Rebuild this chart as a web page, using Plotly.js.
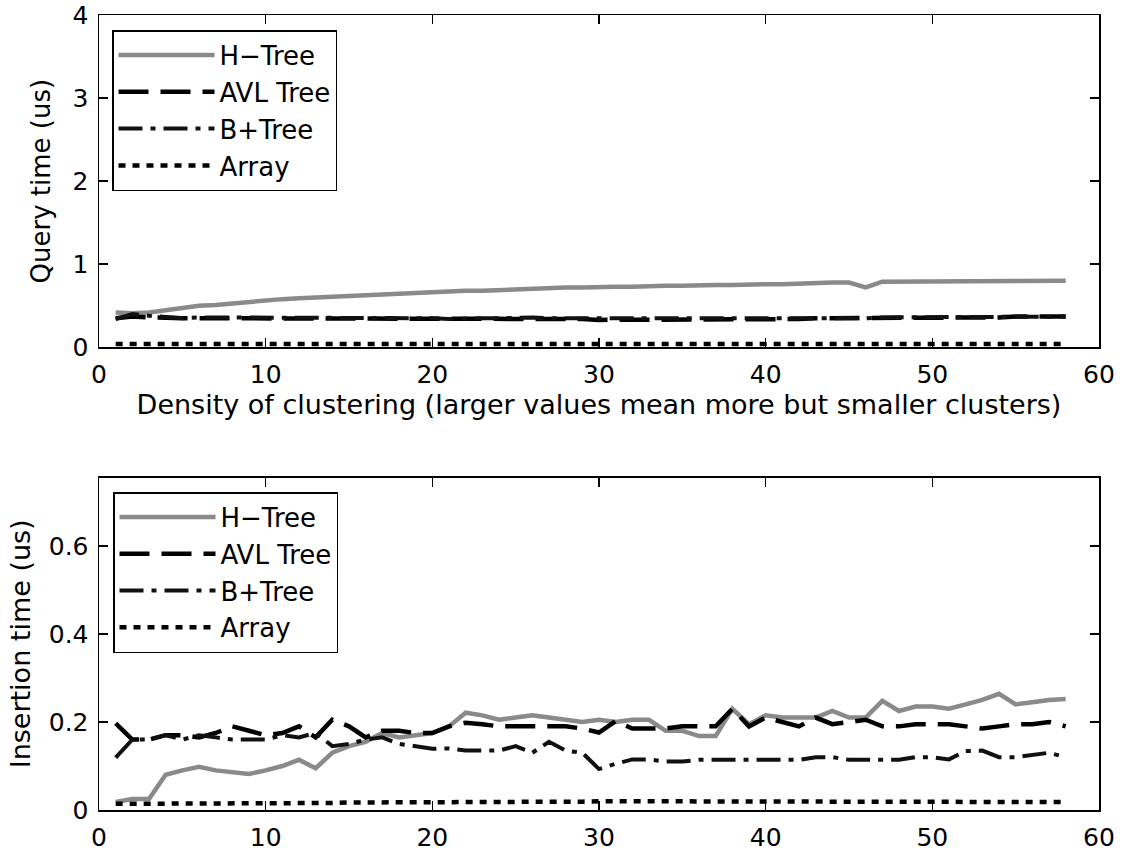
<!DOCTYPE html>
<html><head><meta charset="utf-8">
<script src="https://cdn.plot.ly/plotly-3.0.1.min.js"></script>
<style>body{margin:0;background:#fff}#c{width:1123px;height:850px}</style>
</head><body><div id="c"></div>
<script>
const xs = [1,2,3,4,5,6,7,8,9,10,11,12,13,14,15,16,17,18,19,20,21,22,23,24,25,26,27,28,29,30,31,32,33,34,35,36,37,38,39,40,41,42,43,44,45,46,47,48,49,50,51,52,53,54,55,56,57,58];
// Query time (top)
const qHTree = [0.42,0.41,0.42,0.45,0.48,0.50,0.51,0.53,0.55,0.57,0.58,0.59,0.60,0.61,0.62,0.63,0.64,0.65,0.66,0.67,0.67,0.68,0.68,0.69,0.69,0.70,0.71,0.72,0.72,0.73,0.73,0.73,0.74,0.74,0.74,0.75,0.75,0.75,0.76,0.76,0.76,0.77,0.77,0.78,0.78,0.72,0.79,0.79,0.79,0.79,0.80,0.80,0.80,0.80,0.80,0.80,0.80,0.80];
const qAVL = [0.35,0.37,0.36,0.35,0.35,0.35,0.35,0.35,0.35,0.35,0.35,0.35,0.35,0.35,0.35,0.35,0.35,0.35,0.34,0.34,0.34,0.34,0.34,0.35,0.35,0.35,0.35,0.35,0.34,0.33,0.33,0.33,0.33,0.33,0.34,0.34,0.34,0.34,0.34,0.34,0.34,0.34,0.35,0.35,0.35,0.35,0.35,0.35,0.35,0.36,0.36,0.36,0.36,0.36,0.37,0.37,0.37,0.37];
const qBPlus = [0.34,0.40,0.38,0.36,0.35,0.36,0.36,0.36,0.36,0.35,0.35,0.36,0.36,0.36,0.36,0.36,0.36,0.36,0.35,0.35,0.34,0.35,0.35,0.35,0.36,0.36,0.35,0.35,0.34,0.34,0.34,0.34,0.34,0.34,0.34,0.34,0.35,0.35,0.35,0.35,0.35,0.35,0.35,0.35,0.35,0.35,0.36,0.36,0.36,0.36,0.36,0.37,0.37,0.37,0.37,0.37,0.37,0.37];
const qArray = [0.04,0.04,0.04,0.04,0.04,0.04,0.04,0.04,0.04,0.04,0.04,0.04,0.04,0.04,0.04,0.04,0.04,0.04,0.04,0.04,0.04,0.04,0.04,0.04,0.04,0.04,0.04,0.04,0.04,0.04,0.04,0.04,0.04,0.04,0.04,0.04,0.04,0.04,0.04,0.04,0.04,0.04,0.04,0.04,0.04,0.04,0.04,0.04,0.04,0.04,0.04,0.04,0.04,0.04,0.04,0.04,0.04,0.04];
// Insertion time (bottom)
const iHTree = [0.018,0.025,0.025,0.08,0.09,0.098,0.09,0.085,0.082,0.09,0.10,0.114,0.095,0.13,0.145,0.155,0.175,0.165,0.17,0.175,0.19,0.221,0.215,0.205,0.21,0.215,0.21,0.205,0.20,0.205,0.20,0.205,0.205,0.18,0.18,0.168,0.168,0.23,0.195,0.215,0.21,0.21,0.21,0.225,0.21,0.21,0.248,0.225,0.235,0.235,0.23,0.24,0.25,0.264,0.24,0.245,0.25,0.252];
const iAVL = [0.197,0.16,0.16,0.17,0.17,0.165,0.175,0.19,0.18,0.17,0.175,0.19,0.165,0.205,0.19,0.165,0.18,0.18,0.175,0.175,0.19,0.198,0.195,0.19,0.19,0.19,0.19,0.19,0.185,0.176,0.202,0.185,0.185,0.185,0.19,0.19,0.19,0.23,0.19,0.21,0.20,0.19,0.21,0.195,0.20,0.205,0.19,0.19,0.195,0.195,0.195,0.19,0.185,0.19,0.195,0.195,0.20,0.19];
const iBPlus = [0.119,0.16,0.16,0.17,0.16,0.17,0.165,0.16,0.16,0.16,0.17,0.165,0.175,0.145,0.15,0.16,0.165,0.15,0.145,0.139,0.14,0.135,0.135,0.135,0.145,0.13,0.155,0.135,0.13,0.093,0.105,0.115,0.115,0.11,0.11,0.114,0.114,0.114,0.114,0.114,0.114,0.114,0.12,0.12,0.114,0.114,0.114,0.114,0.12,0.12,0.115,0.134,0.135,0.12,0.12,0.125,0.13,0.12];
const iArray = [0.014,0.014,0.014,0.014,0.014,0.014,0.014,0.014,0.014,0.014,0.014,0.015,0.016,0.016,0.017,0.017,0.017,0.017,0.017,0.018,0.018,0.018,0.018,0.018,0.018,0.018,0.018,0.018,0.019,0.02,0.02,0.02,0.02,0.02,0.02,0.02,0.02,0.02,0.02,0.02,0.02,0.02,0.02,0.02,0.02,0.02,0.02,0.02,0.019,0.019,0.019,0.019,0.018,0.018,0.018,0.018,0.018,0.018];
const names = ["H\u2212Tree","AVL Tree","B+Tree","Array"];

const styles = [
  {color:"#8a8a8a", width:4.5, dash:"solid"},
  {color:"#000", width:4.5, dash:"30px,12px"},
  {color:"#111", width:4, dash:"24px,8px,5px,8px"},
  {color:"#000", width:4.5, dash:"7px,7px"}
];
const topSeries = [qHTree,qAVL,qBPlus,qArray], botSeries = [iHTree,iAVL,iBPlus,iArray];
const traces = [];
topSeries.forEach((y,i)=>traces.push({x:xs,y:y,name:names[i],mode:"lines",line:styles[i],xaxis:"x",yaxis:"y",legend:"legend"}));
botSeries.forEach((y,i)=>traces.push({x:xs,y:y,name:names[i],mode:"lines",line:styles[i],xaxis:"x2",yaxis:"y2",legend:"legend2"}));

const font = {family:"DejaVu Sans, sans-serif", size:25, color:"#000"};
const axBase = {showgrid:false, zeroline:false, showline:true, linecolor:"#000", linewidth:1.5, mirror:"ticks",
  ticks:"inside", ticklen:9, tickcolor:"#000", tickwidth:1.5, tickfont:{size:25}, ticklabelstandoff:4};
const legBase = {bgcolor:"#fff", bordercolor:"#000", borderwidth:1.5, font:{size:26}, itemwidth:96,
  xanchor:"left", yanchor:"top", tracegroupgap:0};
const layout = {
  width:1123, height:850, font:font, paper_bgcolor:"#fff", plot_bgcolor:"#fff",
  margin:{l:99, r:24, t:15, b:40},
  xaxis:Object.assign({}, axBase, {domain:[0,1], range:[0,60], dtick:10, anchor:"y",
    title:{text:"Density of clustering (larger values mean more but smaller clusters)", font:{size:27}, standoff:6}}),
  yaxis:Object.assign({}, axBase, {domain:[0.582,1], range:[0,4], dtick:1, anchor:"x",
    title:{text:"Query time (us)", font:{size:26}, standoff:14}}),
  xaxis2:Object.assign({}, axBase, {domain:[0,1], range:[0,60], dtick:10, anchor:"y2"}),
  yaxis2:Object.assign({}, axBase, {domain:[0,0.418], range:[0,0.755], tickvals:[0,0.2,0.4,0.6], ticktext:["0","0.2","0.4","0.6"], anchor:"x2",
    title:{text:"Insertion time (us)", font:{size:27}, standoff:10}}),
  legend:Object.assign({}, legBase, {x:0.013, y:0.981}),
  legend2:Object.assign({}, legBase, {x:0.014, y:0.40})
};
Plotly.newPlot("c", traces, layout, {displayModeBar:false, staticPlot:true});
</script></body></html>
